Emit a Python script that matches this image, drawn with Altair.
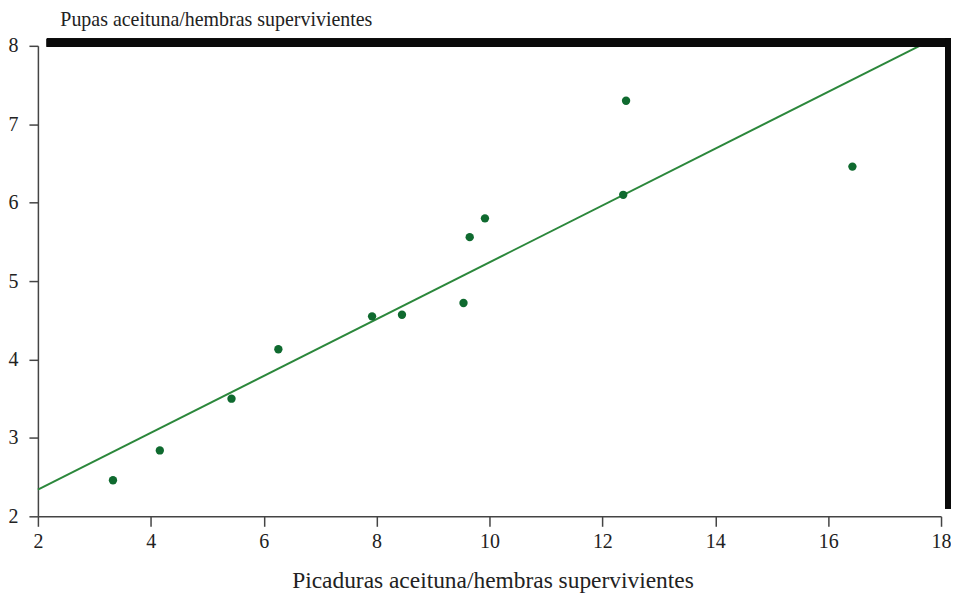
import altair as alt
import pandas as pd

# Data
picaduras = [3.33, 4.16, 5.43, 6.26, 7.92, 8.45, 9.54, 9.65, 9.92, 12.37, 12.42, 16.43]
pupas = [2.46, 2.84, 3.50, 4.13, 4.55, 4.57, 4.72, 5.56, 5.80, 6.10, 7.30, 6.46]

fit_x = [2.0, 17.62]
fit_y = [2.34, 8.0]

x_ticks = [2, 4, 6, 8, 10, 12, 14, 16, 18]
y_ticks = [2, 2.5, 3, 3.5, 4, 4.5, 5, 5.5, 6, 6.5, 7, 7.5, 8]

pts = pd.DataFrame({"x": picaduras, "y": pupas})
fit = pd.DataFrame({"x": fit_x, "y": fit_y})

FONT = "Liberation Serif"
W, H = 906, 472

xscale = alt.Scale(domain=[2, 18], nice=False, zero=False)
yscale = alt.Scale(domain=[2, 8], nice=False, zero=False)

xaxis = alt.Axis(
    values=x_ticks, format="d", grid=False, domainColor="#444444", domainWidth=1.5,
    tickColor="#444444", tickWidth=1.5, tickSize=10, labelPadding=5,
    labelFlush=False, labelOverlap=False,
    labelFont=FONT, labelFontSize=20, labelColor="#222222",
    title="Picaduras aceituna/hembras supervivientes",
    titleFont=FONT, titleFontSize=23.5, titleFontWeight="normal", titleColor="#222222",
    titleX=456, titleY=71, titleAlign="center", titleBaseline="alphabetic",
)
yaxis = alt.Axis(
    values=y_ticks, format="d", grid=False, domainColor="#444444", domainWidth=1.5,
    tickColor="#444444", tickWidth=1.5, tickSize=9, labelPadding=11,
    labelFlush=False, labelOverlap=False,
    labelExpr="datum.value % 1 == 0 ? datum.label : ''",
    labelFont=FONT, labelFontSize=20, labelColor="#222222",
    title="Pupas aceituna/hembras supervivientes",
    titleFont=FONT, titleFontSize=20, titleFontWeight="normal", titleColor="#222222",
    titleAngle=0, titleX=22, titleY=-20, titleAlign="left", titleBaseline="alphabetic",
)

points = alt.Chart(pts).mark_circle(size=70, color="#0f6a2f", opacity=1).encode(
    x=alt.X("x:Q", scale=xscale, axis=xaxis),
    y=alt.Y("y:Q", scale=yscale, axis=yaxis),
)

line = alt.Chart(fit).mark_line(color="#2b873b", strokeWidth=2).encode(
    x=alt.X("x:Q", scale=xscale),
    y=alt.Y("y:Q", scale=yscale),
)

frame_top = alt.Chart(pts).mark_rule(color="#0a0a0a", strokeWidth=8, strokeCap="butt").encode(
    x=alt.value(9), x2=alt.value(917), y=alt.value(-3)
)
frame_right = alt.Chart(pts).mark_rule(color="#0a0a0a", strokeWidth=7, strokeCap="butt").encode(
    x=alt.value(913.5), y=alt.value(-7), y2=alt.value(464)
)

chart = alt.layer(line, points, frame_top, frame_right).properties(
    width=W, height=H,
    autosize=alt.AutoSizeParams(type="none"),
    padding={"left": 30, "top": 37, "right": 10, "bottom": 79},
    background="#ffffff",
).configure_view(stroke=None)

chart.save("out.html", embed_options={"renderer": "svg", "actions": False})
